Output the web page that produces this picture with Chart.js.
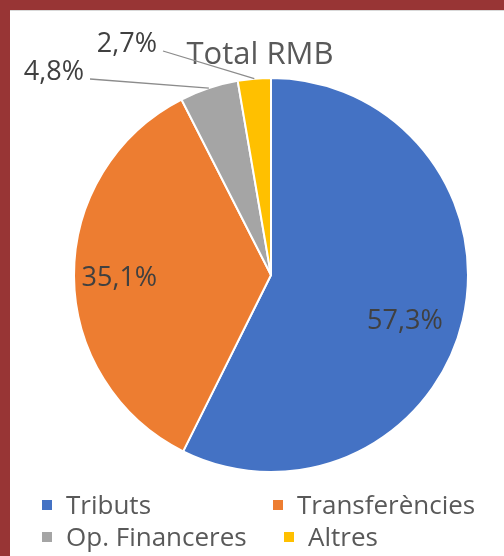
<!DOCTYPE html>
<html>
<head>
<meta charset="utf-8">
<script src="https://cdn.jsdelivr.net/npm/chart.js@4.4.1/dist/chart.umd.min.js"></script>
<style>
    html, body { margin: 0; padding: 0; }
    body { width: 504px; height: 556px; background: #983535; position: relative; overflow: hidden; }
    .panel { position: absolute; left: 10px; top: 10px; right: 0; bottom: 0; background: #fff; border-top: 1px solid #d9d9d9; }
    .chart-box { position: absolute; left: 0; top: 0; width: 504px; height: 556px; }
</style>
</head>
<body>
<div class="panel"></div>
<div class="chart-box"><canvas id="pieChart"></canvas></div>
<script>
const chartTitle = 'Total RMB';
const categories = ['Tributs', 'Transferències', 'Op. Financeres', 'Altres'];
const shares = [57.3, 35.1, 4.8, 2.7];
const sliceColors = ['#4472C4', '#ED7D31', '#A5A5A5', '#FFC000'];

const FONT = '"Open Sans", sans-serif';
const TEXT_DARK = '#404040';
const TEXT_MID = '#595959';

// label placement: inside ones by radius factor + angle nudge (deg), outside ones by text anchor
const labelPlace = [
    { inside: true, r: 0.72, da: 6 },
    { inside: true, r: 0.77, da: -1 },
    { inside: false, x: 84, y: 80 },
    { inside: false, x: 157, y: 52 }
];

// legend layout (marker left x, row baseline)
const legendPlace = [
    { x: 42, y: 514 },
    { x: 273, y: 514 },
    { x: 42, y: 546 },
    { x: 284, y: 546 }
];

const fmt = v => v.toFixed(1).replace('.', ',') + '%';

const excelDecor = {
    id: 'excelDecor',
    afterDraw(chart) {
        const ctx = chart.ctx;
        const arcs = chart.getDatasetMeta(0).data;
        ctx.save();

        // title
        ctx.fillStyle = TEXT_MID;
        ctx.font = '31px ' + FONT;
        ctx.textAlign = 'center';
        ctx.textBaseline = 'alphabetic';
        ctx.fillText(chartTitle, 260, 64);

        // data labels
        ctx.font = '27px ' + FONT;
        arcs.forEach((arc, i) => {
            const p = labelPlace[i];
            const mid = (arc.startAngle + arc.endAngle) / 2;
            const txt = fmt(shares[i]);
            ctx.fillStyle = TEXT_DARK;
            if (p.inside) {
                const a = mid + p.da * Math.PI / 180;
                const r = arc.outerRadius * p.r;
                ctx.textAlign = 'center';
                ctx.textBaseline = 'middle';
                ctx.fillText(txt, arc.x + r * Math.cos(a), arc.y + r * Math.sin(a));
            } else {
                ctx.textAlign = 'right';
                ctx.textBaseline = 'alphabetic';
                ctx.fillText(txt, p.x, p.y);
                const ex = arc.x + arc.outerRadius * Math.cos(mid);
                const ey = arc.y + arc.outerRadius * Math.sin(mid);
                ctx.strokeStyle = '#8c8c8c';
                ctx.lineWidth = 1.3;
                ctx.beginPath();
                ctx.moveTo(p.x + 6, p.y - 1);
                ctx.lineTo(ex, ey);
                ctx.stroke();
            }
        });

        // legend
        ctx.font = '26px ' + FONT;
        ctx.textAlign = 'left';
        ctx.textBaseline = 'alphabetic';
        categories.forEach((name, i) => {
            const p = legendPlace[i];
            ctx.fillStyle = sliceColors[i];
            ctx.fillRect(p.x, p.y - 14, 10, 10);
            ctx.fillStyle = TEXT_MID;
            ctx.fillText(name, p.x + 24, p.y);
        });

        ctx.restore();
    }
};

const ctx = document.getElementById('pieChart').getContext('2d');
const chart = new Chart(ctx, {
    type: 'pie',
    data: {
        labels: categories,
        datasets: [{
            data: shares,
            backgroundColor: sliceColors,
            borderColor: '#ffffff',
            borderWidth: 2
        }]
    },
    options: {
        responsive: true,
        maintainAspectRatio: false,
        animation: false,
        layout: { padding: { left: 73, right: 35, top: 77, bottom: 83 } },
        plugins: {
            legend: { display: false },
            title: { display: false },
            tooltip: { enabled: false }
        }
    },
    plugins: [excelDecor]
});
</script>
</body>
</html>
